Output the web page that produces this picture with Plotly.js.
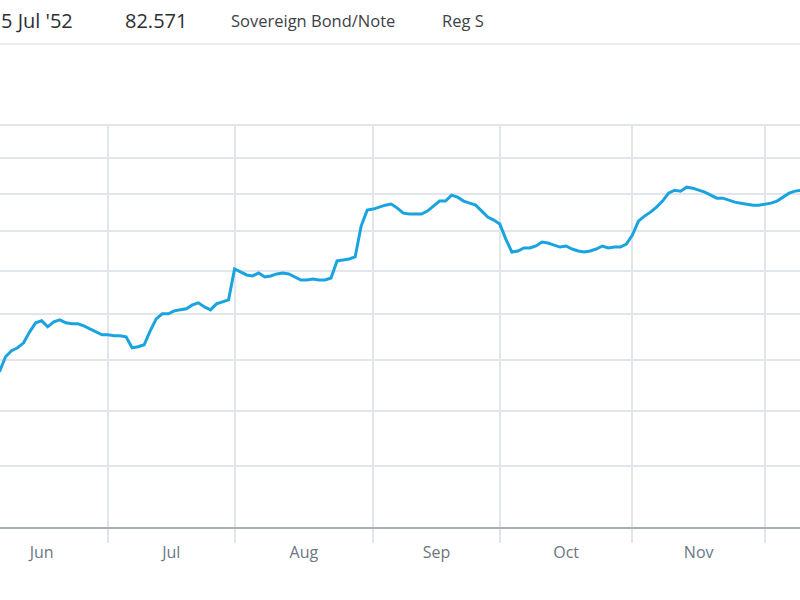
<!DOCTYPE html>
<html>
<head>
<meta charset="utf-8">
<script src="https://cdn.plot.ly/plotly-3.0.1.min.js"></script>
<style>
  html, body { margin: 0; padding: 0; background: #ffffff; }
  #chart { width: 800px; height: 600px; }
</style>
</head>
<body>
<div id="chart"></div>
<script>
// ---- data ----
const dates = [
  '2023-06-07','2023-06-08','2023-06-09','2023-06-12','2023-06-13','2023-06-14','2023-06-15','2023-06-16',
  '2023-06-19','2023-06-20','2023-06-21','2023-06-22','2023-06-23','2023-06-26','2023-06-27','2023-06-28',
  '2023-06-29','2023-06-30',
  '2023-07-03','2023-07-04','2023-07-05','2023-07-06','2023-07-07','2023-07-10','2023-07-11','2023-07-12',
  '2023-07-13','2023-07-14','2023-07-17','2023-07-18','2023-07-19','2023-07-20','2023-07-21','2023-07-24',
  '2023-07-25','2023-07-26','2023-07-27','2023-07-28','2023-07-31',
  '2023-08-01','2023-08-02','2023-08-03','2023-08-04','2023-08-07','2023-08-08','2023-08-09','2023-08-10',
  '2023-08-11','2023-08-14','2023-08-15','2023-08-16','2023-08-17','2023-08-18','2023-08-21','2023-08-22',
  '2023-08-23','2023-08-24','2023-08-25','2023-08-28','2023-08-29','2023-08-30','2023-08-31',
  '2023-09-01','2023-09-04','2023-09-05','2023-09-06','2023-09-07','2023-09-08','2023-09-11','2023-09-12',
  '2023-09-13','2023-09-14','2023-09-15','2023-09-18','2023-09-19','2023-09-20','2023-09-21','2023-09-22',
  '2023-09-25','2023-09-26','2023-09-27','2023-09-28','2023-09-29',
  '2023-10-02','2023-10-03','2023-10-04','2023-10-05','2023-10-06','2023-10-09','2023-10-10','2023-10-11',
  '2023-10-12','2023-10-13','2023-10-16','2023-10-17','2023-10-18','2023-10-19','2023-10-20','2023-10-23',
  '2023-10-24','2023-10-25','2023-10-26','2023-10-27','2023-10-30','2023-10-31',
  '2023-11-01','2023-11-02','2023-11-03','2023-11-06','2023-11-07','2023-11-08','2023-11-09','2023-11-10',
  '2023-11-13','2023-11-14','2023-11-15','2023-11-16','2023-11-17','2023-11-20','2023-11-21','2023-11-22',
  '2023-11-23','2023-11-24','2023-11-27','2023-11-28','2023-11-29','2023-11-30',
  '2023-12-01','2023-12-04','2023-12-05','2023-12-06','2023-12-07','2023-12-08','2023-12-11'
];

const prices = [
  58.83, 60.37, 61.00, 61.31, 61.84, 63.02, 64.01, 64.23, 63.57, 64.12, 64.34, 64.01, 63.90, 63.90, 63.68, 63.35,
  63.02, 62.70,
  62.70, 62.59, 62.59, 62.48, 61.31, 61.42, 61.63, 63.13, 64.45, 65.01, 65.01, 65.34, 65.46, 65.57, 66.02, 66.25,
  65.79, 65.46, 66.14, 66.36, 66.59,
  70.24, 69.88, 69.52, 69.40, 69.76, 69.28, 69.40, 69.64, 69.76, 69.64, 69.28, 68.92, 68.92, 69.04, 68.92, 68.92,
  69.16, 71.22, 71.34, 71.46, 71.71, 75.64, 77.75,
  77.89, 78.15, 78.42, 78.56, 78.02, 77.35, 77.22, 77.22, 77.22, 77.62, 78.29, 78.97, 78.97, 79.78, 79.51, 78.97,
  78.69, 78.42, 77.62, 76.82, 76.42,
  75.90, 73.96, 72.33, 72.45, 72.83, 72.83, 73.08, 73.58, 73.46, 73.20, 72.95, 73.08, 72.70, 72.45, 72.33, 72.45,
  72.70, 73.08, 72.83, 72.95, 72.95, 73.33,
  74.48, 76.29, 76.95, 77.48, 78.15, 78.97, 80.06, 80.47, 80.34, 80.89, 80.75, 80.47, 80.20, 79.78, 79.37, 79.37,
  79.10, 78.83, 78.69, 78.56, 78.42, 78.42,
  78.56, 78.69, 78.97, 79.51, 80.06, 80.34, 80.61
];

const priceGrid = [45, 50, 55, 60, 65, 70, 75, 80, 85, 90];

// month boundaries (first trading day of each month) and month label positions
const monthStarts = ['2023-07-03', '2023-08-01', '2023-09-01', '2023-10-02', '2023-11-01', '2023-12-01'];
const monthLabelDates = ['2023-06-16', '2023-07-17 12:00', '2023-08-16 12:00', '2023-09-15 12:00', '2023-10-17', '2023-11-16'];
const monthLabels = ['Jun', 'Jul', 'Aug', 'Sep', 'Oct', 'Nov'];

const headerTexts = ["5 Jul '52", '82.571', 'Sovereign Bond/Note', 'Reg S'];

// ---- chart ----
const gridColor = '#e2e5e9';
const FONT = '"Open Sans", "Noto Sans", sans-serif';

const trace = {
  x: dates,
  y: prices,
  type: 'scatter',
  mode: 'lines',
  line: { color: '#1aa4df', width: 3, shape: 'linear' },
  hoverinfo: 'skip',
  showlegend: false
};

// plot area spans y = 124 .. 527 px
const PLOT_TOP = 124, PLOT_BOTTOM = 527, PLOT_H = PLOT_BOTTOM - PLOT_TOP;
const toPaperY = (py) => (PLOT_BOTTOM - py) / PLOT_H;

const headerX = [0, 124 / 800, 230 / 800, 441 / 800];
const headerSize = [20, 20, 16.5, 16.5];
const headerColor = ['#2b2f33', '#2b2f33', '#3d4247', '#3d4247'];

const annotations = headerTexts.map((t, i) => ({
  text: t,
  xref: 'paper', yref: 'paper',
  x: headerX[i], y: toPaperY(20),
  xanchor: 'left', yanchor: 'middle',
  showarrow: false,
  borderpad: 0,
  font: { family: FONT, size: headerSize[i], color: headerColor[i] }
}));

const layout = {
  width: 800,
  height: 600,
  margin: { l: 0, r: 0, t: PLOT_TOP, b: 600 - PLOT_BOTTOM, pad: 0 },
  paper_bgcolor: '#ffffff',
  plot_bgcolor: '#ffffff',
  showlegend: false,
  font: { family: FONT, color: '#6b7682' },
  xaxis: {
    type: 'date',
    range: ['2023-06-07 01:58', '2023-12-08 19:22'],
    rangebreaks: [{ bounds: ['sat', 'mon'] }],
    tickmode: 'array',
    tickvals: monthLabelDates,
    ticktext: monthLabels,
    ticks: 'outside',
    ticklen: 10,
    tickwidth: 1,
    tickcolor: 'rgba(0,0,0,0)',
    showgrid: false,
    minor: {
      tickmode: 'array',
      tickvals: monthStarts,
      ticks: 'outside',
      ticklen: 14,
      tickwidth: 2,
      tickcolor: gridColor,
      showgrid: true,
      gridcolor: gridColor,
      gridwidth: 2
    },
    showline: true,
    linecolor: '#a7afb8',
    linewidth: 2,
    zeroline: false,
    tickfont: { family: FONT, size: 16, color: '#6b7682' },
    fixedrange: true
  },
  yaxis: {
    type: 'log',
    range: [Math.log10(45), Math.log10(90) + 0.001],
    tickmode: 'array',
    tickvals: priceGrid,
    showticklabels: false,
    ticks: '',
    showgrid: true,
    gridcolor: gridColor,
    gridwidth: 2,
    zeroline: false,
    showline: false,
    fixedrange: true
  },
  shapes: [{
    type: 'line', xref: 'paper', yref: 'paper',
    x0: 0, x1: 1, y0: toPaperY(44), y1: toPaperY(44),
    line: { color: '#e4e6e9', width: 1.5 }
  }],
  annotations: annotations
};

Plotly.newPlot('chart', [trace], layout, { displayModeBar: false, staticPlot: true });
</script>
</body>
</html>
